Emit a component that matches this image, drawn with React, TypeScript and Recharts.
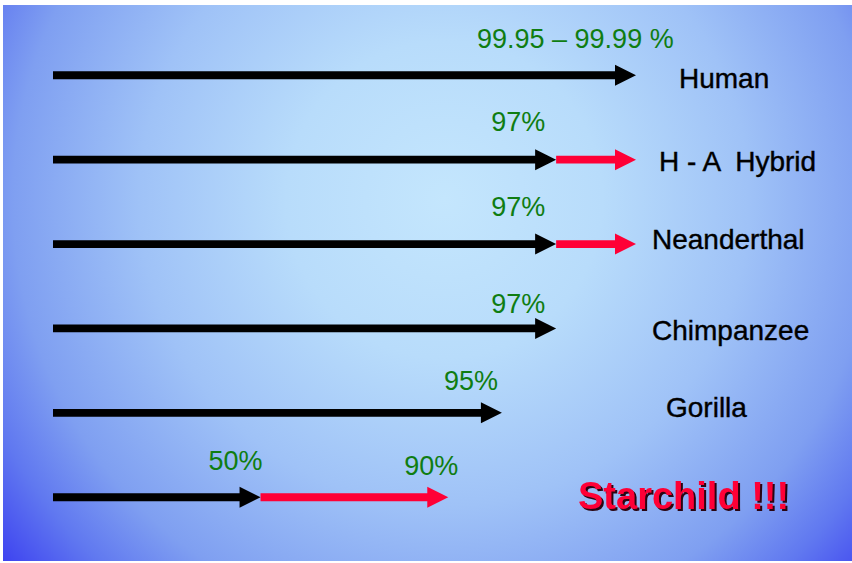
import React from 'react';
import { ComposedChart, Bar, XAxis, YAxis, LabelList } from 'recharts';

// Rows (top to bottom)
const species = ['Human', 'H - A  Hybrid', 'Neanderthal', 'Chimpanzee', 'Gorilla', 'Starchild !!!'];
// Arrow lengths (relative units, Human = 100)
const blackArrowEnd = [100, 86.3, 86.3, 86.3, 77.0, 35.6];
const redArrowEnd: (number | null)[] = [null, 100, 100, null, null, 67.8];
// Green annotation texts
const blackLabels = ['99.95 – 99.99 %', '97%', '97%', '97%', '95%', '50%'];
const redLabels: (string | null)[] = [null, null, null, null, null, '90%'];

const data = species.map((name, i) => ({
  name,
  black: blackArrowEnd[i],
  red: redArrowEnd[i] == null ? null : (redArrowEnd[i] as number) - blackArrowEnd[i],
  blackLabel: blackLabels[i],
  redLabel: redLabels[i],
}));

const FONT = '"Liberation Sans", Arial, sans-serif';
const GREEN = '#0f7d12';
const RED = '#ff0036';

const makeArrow = (color: string) => (props: any) => {
  const { x, y, width, height } = props;
  if (width == null || !(width > 0)) return <g />;
  const cy = y + height / 2;
  const head = 21;
  const hh = 10.5;
  const sw = 3.9;
  const x2 = x + width;
  const xs = x2 - head;
  const d = `M${x},${cy - sw} L${xs},${cy - sw} L${xs},${cy - hh} L${x2},${cy} L${xs},${cy + hh} L${xs},${cy + sw} L${x},${cy + sw} Z`;
  return <path d={d} fill={color} />;
};

// style nudges for green texts (relative to arrow tip / row center)
const blackNudge = [
  { dx: -159, dy: -27 },
  { dx: -65, dy: -29 },
  { dx: -65, dy: -28 },
  { dx: -65, dy: -15 },
  { dx: -58, dy: -23 },
  { dx: -52, dy: -27 },
];
const redNudge = [null, null, null, null, null, { dx: -44, dy: -22 }];

const makeGreenLabel = (nudges: any[]) => (props: any) => {
  const { x, y, width, height, value, index } = props;
  if (value == null || !nudges[index]) return <g />;
  const tip = x + width;
  const cy = y + height / 2;
  const n = nudges[index];
  return (
    <text x={tip + n.dx} y={cy + n.dy} fill={GREEN} fontSize={27} fontFamily={FONT} textAnchor="start" style={{ whiteSpace: 'pre' }}>
      {value}
    </text>
  );
};

const nameNudge: Record<string, { dx: number; dy: number }> = {
  'Human': { dx: 43, dy: 12.5 },
  'H - A  Hybrid': { dx: 23, dy: 12 },
  'Neanderthal': { dx: 16, dy: 5 },
  'Chimpanzee': { dx: 16, dy: 12 },
  'Gorilla': { dx: 30, dy: 4 },
  'Starchild !!!': { dx: -58, dy: 12 },
};

const NameTick = (props: any) => {
  const { x, y, payload } = props;
  const name = payload.value as string;
  const n = nameNudge[name] || { dx: 0, dy: 0 };
  if (name.startsWith('Starchild')) {
    return (
      <text
        x={x + n.dx}
        y={y + n.dy}
        fill={RED}
        fontSize={38}
        fontWeight="bold"
        fontFamily={FONT}
        style={{ filter: 'drop-shadow(2px 2px 0px #2a0512)' }}
      >
        {name}
      </text>
    );
  }
  return (
    <text
      x={x + n.dx}
      y={y + n.dy}
      fill="#000"
      stroke="#000"
      strokeWidth={0.4}
      fontSize={28}
      fontFamily={FONT}
      textAnchor="start"
      style={{ whiteSpace: 'pre' }}
    >
      {name}
    </text>
  );
};

export default function App() {
  return (
    <div style={{ position: 'absolute', left: 0, top: 0, width: 852, height: 563, background: '#fff' }}>
      <div
        style={{
          position: 'absolute',
          left: 3,
          top: 5,
          width: 849,
          height: 556,
          background:
            'radial-gradient(ellipse 62% 95% at 52% 35%, #c4e6fd 0%, #b8dcfb 30%, #9fc2f7 58%, #7f9ff1 82%, #6078f0 95%, #3434f0 112%)',
        }}
      />
      <div style={{ position: 'absolute', left: 0, top: 0 }}>
        <ComposedChart
          width={852}
          height={563}
          data={data}
          layout="vertical"
          margin={{ top: 32.8, right: 0, bottom: 23.8, left: 53 }}
        >
          <XAxis type="number" domain={[0, 100]} hide />
          <YAxis
            type="category"
            dataKey="name"
            orientation="right"
            width={216}
            axisLine={false}
            tickLine={false}
            tickSize={0}
            tickMargin={0}
            tick={<NameTick />}
          />
          <Bar dataKey="black" stackId="a" shape={makeArrow('#000')} isAnimationActive={false}>
            <LabelList dataKey="blackLabel" content={makeGreenLabel(blackNudge)} />
          </Bar>
          <Bar dataKey="red" stackId="a" shape={makeArrow(RED)} isAnimationActive={false}>
            <LabelList dataKey="redLabel" content={makeGreenLabel(redNudge)} />
          </Bar>
        </ComposedChart>
      </div>
    </div>
  );
}
